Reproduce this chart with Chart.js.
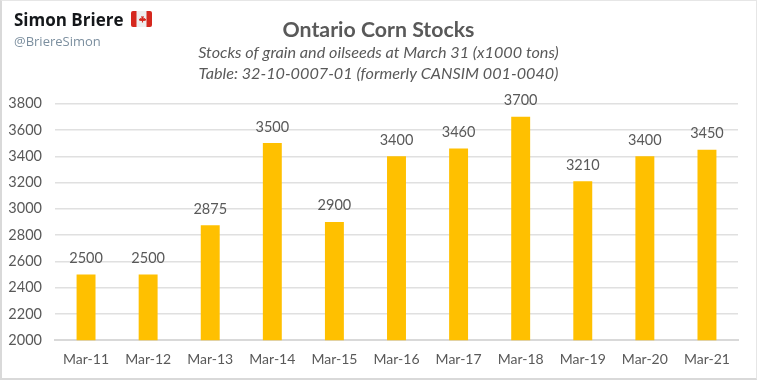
<!DOCTYPE html>
<html><head><meta charset="utf-8">
<script src="https://cdn.jsdelivr.net/npm/chart.js@4"></script>
<style>
html,body{margin:0;padding:0;background:#fff;overflow:hidden}
#frame{position:absolute;left:0;top:0;width:757px;height:380px;box-sizing:border-box;border-left:2px solid #d9d9d9;border-bottom:2px solid #d9d9d9;border-top:1px solid #e6e6e6;border-right:1px solid #e6e6e6}
#wrap{position:absolute;left:0;top:0;width:757px;height:380px}
#name{position:absolute;left:14px;top:8px;font:700 17px "Open Sans",sans-serif;color:#14171a;white-space:nowrap}
#handle{position:absolute;left:14px;top:32px;font:400 13px "Open Sans",sans-serif;color:#7c8f9f;white-space:nowrap}
#flag{position:absolute;left:131px;top:11px}
</style></head><body>
<div id="wrap"><canvas id="c" width="757" height="380"></canvas></div>
<div id="frame"></div>
<div id="name">Simon Briere</div>
<div id="handle">@BriereSimon</div>
<svg id="flag" width="21" height="16" viewBox="0 0 21 16"><rect width="21" height="16" rx="2" fill="#d5281e"/><rect x="5.5" width="10" height="16" fill="#eeeeee"/><path d="M10.5 3.5l1 2 1.3-.5-.4 2.5 1.4-.6.4 1 1-.2-.6 2-2.6.3.1 1.6h-1.2l.1-1.6-2.6-.3-.6-2 1 .2.4-1 1.4.6-.4-2.5 1.3.5z" fill="#d5281e"/></svg>
<script>
const categories = ["Mar-11","Mar-12","Mar-13","Mar-14","Mar-15","Mar-16","Mar-17","Mar-18","Mar-19","Mar-20","Mar-21"];
const stocks = [2500,2500,2875,3500,2900,3400,3460,3700,3210,3400,3450];
const tickLabels = [2000,2200,2400,2600,2800,3000,3200,3400,3600,3800];
const titleText = "Ontario Corn Stocks";
const subtitleLines = ["Stocks of grain and oilseeds at March 31 (x1000 tons)","Table: 32-10-0007-01 (formerly CANSIM 001-0040)"];

const barLabels = {
  id:"barLabels",
  afterDatasetsDraw(chart){
    const {ctx,scales:{x,y}} = chart;
    ctx.save();
    ctx.font = '14.5px Lato, sans-serif';
    ctx.fillStyle = '#595959';
    ctx.textAlign = 'center';
    ctx.textBaseline = 'bottom';
    stocks.forEach((v,i)=>ctx.fillText(String(v), x.getPixelForValue(i), y.getPixelForValue(v)-9));
    ctx.restore();
  }
};

new Chart(document.getElementById('c'),{
  type:'bar',
  data:{labels:categories,datasets:[{data:stocks,backgroundColor:'#ffc000',barPercentage:0.61,categoryPercentage:0.5}]},
  plugins:[barLabels],
  options:{
    responsive:false,animation:false,
    layout:{padding:{top:17,left:0,right:0,bottom:9}},
    plugins:{
      legend:{display:false},tooltip:{enabled:false},
      title:{display:true,text:titleText,color:'#595959',font:{family:'Lato, sans-serif',size:21.3,weight:'700'},padding:{top:0,bottom:0}},
      subtitle:{display:true,text:subtitleLines,color:'#595959',font:{family:'Lato, sans-serif',size:16.2,style:'italic',lineHeight:1.27},padding:{top:0,bottom:20}}
    },
    scales:{
      x:{grid:{display:false},border:{color:'#d9d9d9',width:2},
         ticks:{color:'#595959',font:{family:'Lato, sans-serif',size:14},padding:3,maxRotation:0,autoSkip:false}},
      y:{min:2000,max:3800,
         afterFit(s){s.width=55;},
         afterBuildTicks(s){s.ticks=tickLabels.map(v=>({value:v}));},
         grid:{color:'#e0e0e0',lineWidth:1.5,drawTicks:false},border:{display:false},
         ticks:{color:'#595959',font:{family:'Lato, sans-serif',size:14.5},padding:13,callback:v=>String(v)}},
      rightGap:{position:'right',min:2000,max:3800,
         afterFit(s){s.width=19;},
         grid:{display:false,drawOnChartArea:false},border:{display:false},ticks:{display:false}}
    }
  }
});
</script></body></html>
